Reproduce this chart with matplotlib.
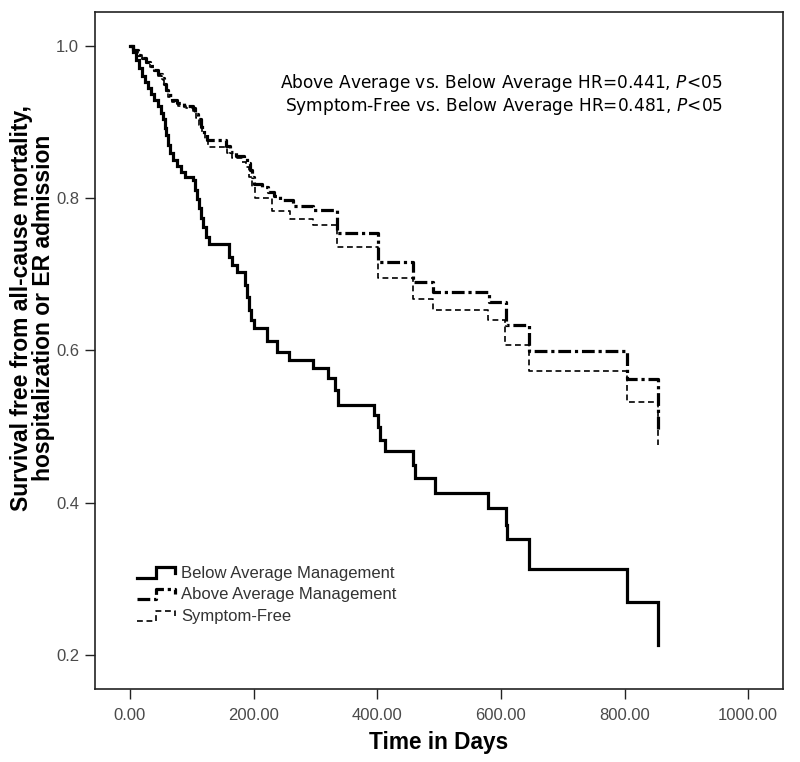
# plot.py
# Kaplan-Meier style survival curves by symptom management group

import matplotlib
matplotlib.use('Agg')
import matplotlib.pyplot as plt
from matplotlib.lines import Line2D
from matplotlib.legend_handler import HandlerLine2D

# event times (days) and survival after each event
below_days = [0, 5, 10, 15, 19, 24, 29, 34, 39, 45, 50, 53, 56, 58, 61, 65, 70, 76, 83, 89,
              102, 105, 108, 112, 115, 118, 123, 128, 160, 165, 173, 186, 189, 193, 196, 201,
              222, 238, 257, 296, 320, 332, 337, 395, 401, 405, 413, 458, 461, 493, 579,
              608, 610, 646, 804, 854]
below_surv = [1.0, 0.992, 0.981, 0.971, 0.960, 0.952, 0.944, 0.937, 0.929, 0.921, 0.912,
              0.903, 0.892, 0.882, 0.870, 0.859, 0.850, 0.842, 0.834, 0.828, 0.824, 0.811,
              0.799, 0.787, 0.774, 0.762, 0.749, 0.740, 0.723, 0.712, 0.703, 0.686, 0.670,
              0.653, 0.640, 0.630, 0.612, 0.598, 0.588, 0.577, 0.564, 0.548, 0.529, 0.516,
              0.499, 0.483, 0.468, 0.450, 0.433, 0.413, 0.394, 0.371, 0.353, 0.314, 0.270,
              0.214]

above_days = [0, 5, 13, 19, 26, 32, 39, 45, 52, 55, 58, 61, 68, 76, 87, 102, 105, 110, 115,
              120, 125, 155, 162, 172, 184, 189, 194, 197, 201, 214, 223, 233, 243, 264, 296,
              335, 401, 458, 490, 581, 608, 646, 804, 854]
above_surv = [1.0, 0.994, 0.988, 0.984, 0.979, 0.973, 0.968, 0.962, 0.958, 0.950, 0.942,
              0.935, 0.929, 0.925, 0.921, 0.918, 0.910, 0.903, 0.893, 0.884, 0.876, 0.868,
              0.860, 0.855, 0.853, 0.846, 0.837, 0.828, 0.819, 0.815, 0.808, 0.802, 0.798,
              0.790, 0.784, 0.754, 0.716, 0.690, 0.677, 0.664, 0.634, 0.599, 0.562, 0.496]

free_days = [0, 5, 13, 19, 26, 32, 39, 45, 52, 55, 58, 61, 68, 78, 91, 102, 107, 112, 117,
             121, 126, 157, 165, 181, 188, 193, 197, 202, 230, 259, 296, 335, 401, 458, 490,
             579, 607, 646, 804, 854]
free_surv = [1.0, 0.994, 0.988, 0.983, 0.977, 0.972, 0.966, 0.960, 0.955, 0.947, 0.939,
             0.932, 0.926, 0.921, 0.918, 0.914, 0.905, 0.896, 0.886, 0.876, 0.867, 0.859,
             0.852, 0.847, 0.840, 0.828, 0.815, 0.800, 0.783, 0.773, 0.765, 0.736, 0.695,
             0.667, 0.653, 0.640, 0.607, 0.573, 0.533, 0.476]

group_labels = ['Below Average Management', 'Above Average Management', 'Symptom-Free']
hr_lines = ['Above Average vs. Below Average HR=0.441, $\\mathit{P}$<05',
            'Symptom-Free vs. Below Average HR=0.481, $\\mathit{P}$<05']
x_ticks = [0, 200, 400, 600, 800, 1000]
y_ticks = [0.2, 0.4, 0.6, 0.8, 1.0]


class StepHandler(HandlerLine2D):
    # little step glyph like the SPSS legend
    def create_artists(self, legend, orig_handle, xdescent, ydescent,
                       width, height, fontsize, trans):
        x0 = -xdescent
        y_lo = -ydescent + height * 0.0
        y_hi = -ydescent + height * 0.9
        xm = x0 + width * 0.5
        line = Line2D([x0, xm, xm, x0 + width, x0 + width],
                      [y_lo, y_lo, y_hi, y_hi, y_hi - (y_hi - y_lo) * 0.5])
        self.update_prop(line, orig_handle, legend)
        line.set_transform(trans)
        return [line]


fig = plt.figure(figsize=(8, 7.62), dpi=100)
ax = fig.add_axes([0.11875, 0.0958, 0.8597, 0.8885])

l1, = ax.step(below_days, below_surv, where='post', color='black', lw=2.3,
              solid_joinstyle='miter')
l2, = ax.step(above_days, above_surv, where='post', color='black', lw=2.3,
              linestyle=(0, (4.0, 1.2, 1.0, 1.2)))
l3, = ax.step(free_days, free_surv, where='post', color='black', lw=1.2,
              linestyle=(0, (3.5, 2.2)))

ax.set_xlim(-56.6, 1056)
ax.set_ylim(0.156, 1.044)
ax.set_xticks(x_ticks)
ax.set_xticklabels([f'{t:.2f}' for t in x_ticks])
ax.set_yticks(y_ticks)
ax.set_yticklabels([f'{t:.1f}' for t in y_ticks])
ax.tick_params(direction='out', length=7.5, width=1.0, color='#222222',
               labelsize=12, labelcolor='#4a4a4a', pad=4)
ax.tick_params(axis='x', pad=6)
for lab in ax.get_xticklabels() + ax.get_yticklabels():
    lab.set_family('Liberation Sans')
for sp in ax.spines.values():
    sp.set_linewidth(1.2)
    sp.set_color('#222222')

ax.set_xlabel('Time in Days', fontsize=16.3, fontweight='bold', family='Liberation Sans')
ax.xaxis.set_label_coords(0.5, -0.062)
ax.set_ylabel('Survival free from all-cause mortality,\nhospitalization or ER admission',
              fontsize=16.5, fontweight='bold', family='Liberation Sans', linespacing=0.95)
ax.yaxis.set_label_coords(-0.058, 0.563)

ax.text(0.9128, 0.895, hr_lines[0], transform=ax.transAxes, ha='right', va='center',
        fontsize=12.25)
ax.text(0.9128, 0.861, hr_lines[1], transform=ax.transAxes, ha='right', va='center',
        fontsize=12.25)

leg = ax.legend([l1, l2, l3], group_labels, loc='lower left',
                bbox_to_anchor=(0.051, 0.086), frameon=False, handlelength=2.28,
                handletextpad=0.4, labelspacing=0.4, borderaxespad=0,
                handler_map={Line2D: StepHandler()},
                prop={'family': 'Liberation Sans', 'size': 12})
for t in leg.get_texts():
    t.set_color('#333333')

fig.savefig('out.png', dpi=100)
